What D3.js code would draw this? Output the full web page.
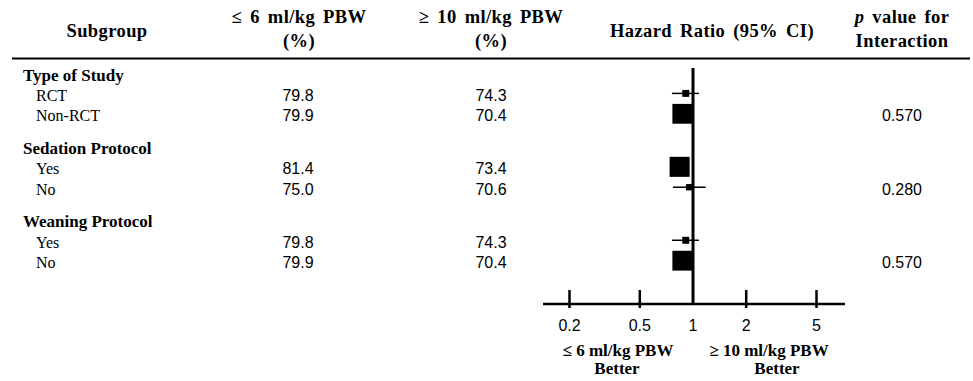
<!DOCTYPE html>
<html>
<head>
<meta charset="utf-8">
<script src="https://cdn.jsdelivr.net/npm/d3@7"></script>
<style>
	body { margin: 0; background: #fff; }
	svg text { fill: #000; }
</style>
</head>
<body>
<div id="chart"></div>
<script>
// data
const groups = ['Type of Study', 'Sedation Protocol', 'Weaning Protocol'];
const levels = ['RCT', 'Non-RCT', 'Yes', 'No', 'Yes', 'No'];
const lowTidal = ['79.8', '79.9', '81.4', '75.0', '79.8', '79.9'];
const highTidal = ['74.3', '70.4', '73.4', '70.6', '74.3', '70.4'];
const hazard = [0.91, 0.87, 0.84, 0.95, 0.91, 0.87];
const ciLow = [0.76, 0.79, 0.77, 0.77, 0.76, 0.79];
const ciHigh = [1.08, 0.95, 0.92, 1.18, 1.08, 0.95];
const weight = [11, 89, 91, 9, 11, 89];
const pValues = ['0.570', '0.280', '0.570'];
const ticks = [0.2, 0.5, 1, 2, 5];

const width = 973;
const height = 381;
const serif = '"Liberation Serif", "Times New Roman", serif';
const sans = '"Liberation Sans", Arial, sans-serif';

const svg = d3.select('#chart')
	.append('svg')
	.attr('width', width)
	.attr('height', height);

// row layout: each group has a heading line and two level lines
const rowY = d3.scaleLinear().domain([0, 1]).range([75, 95.4]);
const groupLine = (g) => g * 3.6;
const levelLine = (i) => groupLine(Math.floor(i / 2)) + 1 + (i % 2);

const x = d3.scaleLog().domain([0.2, 5]).range([569.5, 816.5]);
const box = d3.scaleSqrt().domain([0, 100]).range([0, 21]);

// header
const header = svg.append('g')
	.style('font-family', serif)
	.style('font-weight', 'bold')
	.style('font-size', '18.5px')
	.style('letter-spacing', '0.4px')
	.style('word-spacing', '3px')
	.attr('text-anchor', 'middle');

const head = [
	{ t: 'Subgroup', x: 107, y: 37 },
	{ t: '≤ 6 ml/kg PBW', x: 299, y: 23 },
	{ t: '(%)', x: 299, y: 47 },
	{ t: '≥ 10 ml/kg PBW', x: 491, y: 23 },
	{ t: '(%)', x: 491, y: 47 },
	{ t: 'Hazard Ratio (95% CI)', x: 712, y: 37 },
	{ t: 'Interaction', x: 902, y: 47 }
];
header.selectAll('text.h')
	.data(head)
	.join('text')
	.attr('class', 'h')
	.attr('x', d => d.x)
	.attr('y', d => d.y)
	.text(d => d.t);

const pHead = header.append('text')
	.attr('x', 902)
	.attr('y', 23);
pHead.append('tspan').style('font-style', 'italic').text('p');
pHead.append('tspan').text(' value for');

svg.append('line')
	.attr('x1', 12).attr('x2', 970)
	.attr('y1', 58.5).attr('y2', 58.5)
	.attr('stroke', '#000')
	.attr('stroke-width', 2);

// group headings
svg.append('g')
	.selectAll('text')
	.data(groups)
	.join('text')
	.attr('x', 23)
	.attr('y', (d, i) => rowY(groupLine(i)) + 5.5)
	.style('font-family', serif)
	.style('font-weight', 'bold')
	.style('font-size', '17px')
	.text(d => d);

// level labels
svg.append('g')
	.selectAll('text')
	.data(levels)
	.join('text')
	.attr('x', 36)
	.attr('y', (d, i) => rowY(levelLine(i)) + 5.5)
	.style('font-family', serif)
	.style('font-size', '16px')
	.text(d => d);

// percentage columns
const cols = [
	{ vals: lowTidal, x: 298 },
	{ vals: highTidal, x: 491 }
];
cols.forEach(c => {
	svg.append('g')
		.selectAll('text')
		.data(c.vals)
		.join('text')
		.attr('x', c.x)
		.attr('y', (d, i) => rowY(levelLine(i)) + 5.5)
		.attr('text-anchor', 'middle')
		.style('font-family', sans)
		.style('font-size', '16px')
		.text(d => d);
});

// p values, on second level row of each group
svg.append('g')
	.selectAll('text')
	.data(pValues)
	.join('text')
	.attr('x', 902)
	.attr('y', (d, i) => rowY(levelLine(i * 2 + 1)) + 5.5)
	.attr('text-anchor', 'middle')
	.style('font-family', sans)
	.style('font-size', '16px')
	.text(d => d);

// forest plot
const plot = svg.append('g');
const axisY = 304;

plot.append('line')
	.attr('x1', 543).attr('x2', 845)
	.attr('y1', axisY).attr('y2', axisY)
	.attr('stroke', '#000')
	.attr('stroke-width', 2.5);

plot.selectAll('line.tick')
	.data(ticks.filter(t => t !== 1))
	.join('line')
	.attr('class', 'tick')
	.attr('x1', d => x(d)).attr('x2', d => x(d))
	.attr('y1', 290).attr('y2', 308)
	.attr('stroke', '#000')
	.attr('stroke-width', 2.5);

// line of no effect
plot.append('line')
	.attr('x1', x(1)).attr('x2', x(1))
	.attr('y1', 68).attr('y2', axisY)
	.attr('stroke', '#000')
	.attr('stroke-width', 3);

plot.selectAll('text.tl')
	.data(ticks)
	.join('text')
	.attr('class', 'tl')
	.attr('x', d => x(d))
	.attr('y', 331)
	.attr('text-anchor', 'middle')
	.style('font-family', sans)
	.style('font-size', '16px')
	.text(d => d);

const est = levels.map((l, i) => ({
	hr: hazard[i], lo: ciLow[i], hi: ciHigh[i], w: weight[i], y: rowY(levelLine(i)) - 2
}));

plot.selectAll('line.ci')
	.data(est)
	.join('line')
	.attr('class', 'ci')
	.attr('x1', d => x(d.lo)).attr('x2', d => x(d.hi))
	.attr('y1', d => d.y).attr('y2', d => d.y)
	.attr('stroke', '#000')
	.attr('stroke-width', 1.5);

plot.selectAll('rect.est')
	.data(est)
	.join('rect')
	.attr('class', 'est')
	.attr('x', d => x(d.hr) - box(d.w) / 2)
	.attr('y', d => d.y - box(d.w) / 2)
	.attr('width', d => box(d.w))
	.attr('height', d => box(d.w))
	.attr('fill', '#000');

// favours labels
const fav = [
	{ a: '≤ 6 ml/kg PBW', x: 618, bx: 617 },
	{ a: '≥ 10 ml/kg PBW', x: 769, bx: 777 }
];
const favG = plot.append('g')
	.style('font-family', serif)
	.style('font-weight', 'bold')
	.style('font-size', '17px')
	.attr('text-anchor', 'middle');
favG.selectAll('text.a')
	.data(fav)
	.join('text')
	.attr('class', 'a')
	.attr('x', d => d.x)
	.attr('y', 356)
	.text(d => d.a);
favG.selectAll('text.b')
	.data(fav)
	.join('text')
	.attr('class', 'b')
	.attr('x', d => d.bx)
	.attr('y', 374)
	.text('Better');
</script>
</body>
</html>
